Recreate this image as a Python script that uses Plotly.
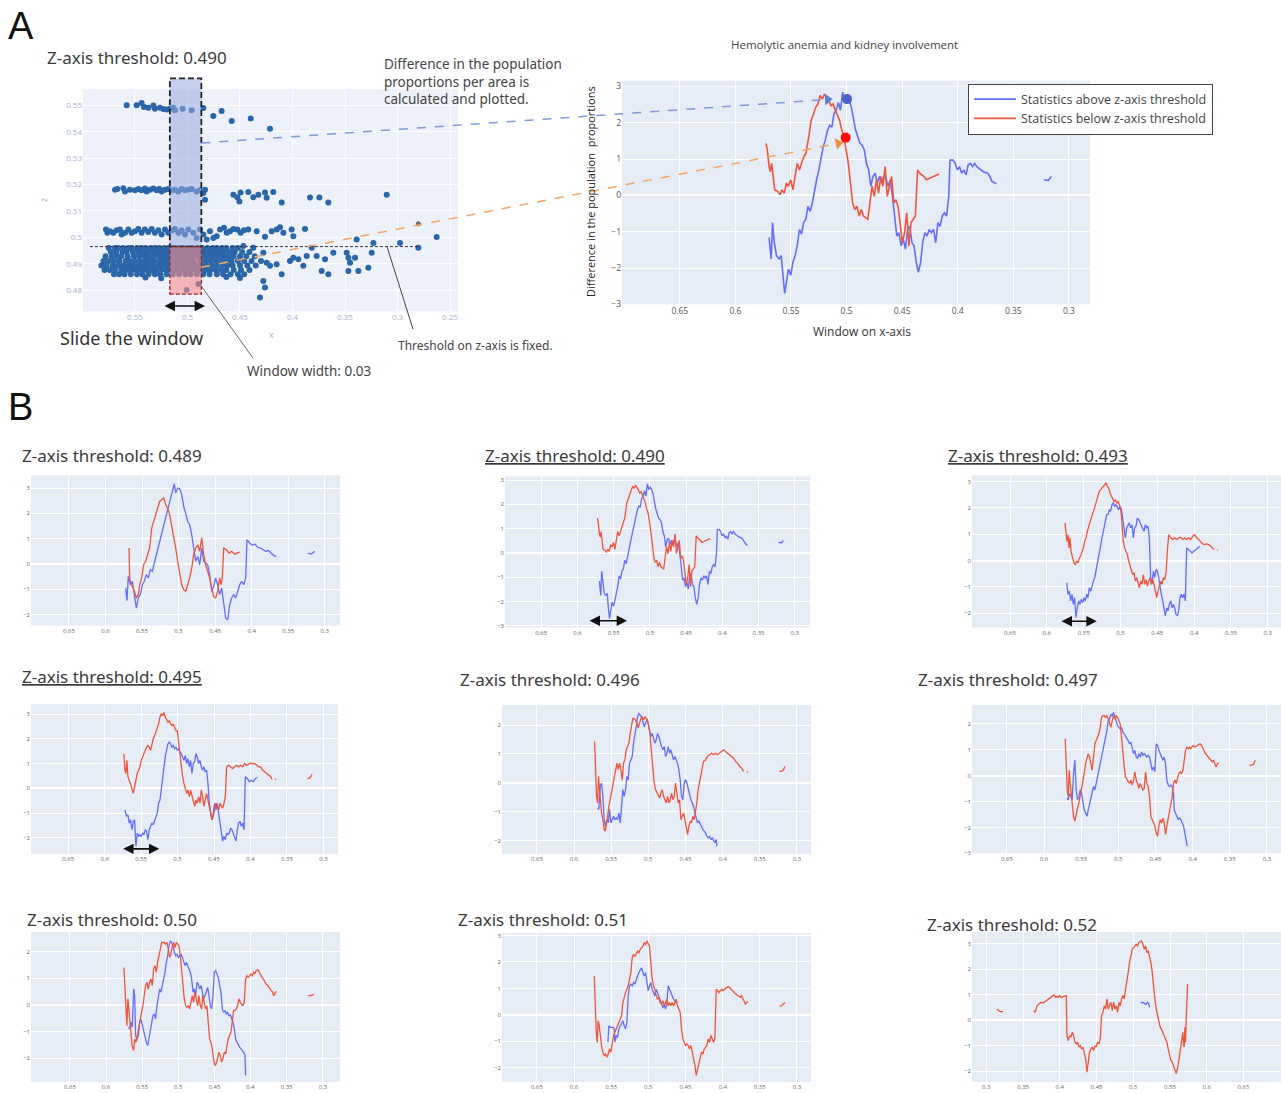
import plotly.graph_objects as go

W, H = 1281, 1093
BLUE = "#636efa"
RED = "#ef553b"
TXT = "Noto Sans"

# ---------------------------------------------------------------- scatter data (x, z)
top_row_x = [0.5579, 0.5484, 0.5437, 0.5414, 0.5373, 0.5325, 0.5310, 0.5262, 0.5230, 0.5198, 0.5167,
             0.5135, 0.5119, 0.5046, 0.4960, 0.4849, 0.4754, 0.4675, 0.4579, 0.4398, 0.4214]
top_row_z = [0.5500, 0.5500, 0.5509, 0.5494, 0.5491, 0.5499, 0.5487, 0.5491, 0.5486, 0.5484, 0.5487,
             0.5491, 0.5481, 0.5487, 0.5481, 0.5490, 0.5460, 0.5479, 0.5441, 0.5450, 0.5411]

mid_row_x = [0.5690, 0.5668, 0.5611, 0.5595, 0.5548, 0.5500, 0.5468, 0.5437, 0.5405, 0.5389, 0.5357,
             0.5325, 0.5294, 0.5268, 0.5246, 0.5214, 0.5183, 0.5151, 0.5119, 0.5087, 0.5056, 0.5024,
             0.4992, 0.4960, 0.4913, 0.4881, 0.4849, 0.4833, 0.4833, 0.4563, 0.4525, 0.4506, 0.4494,
             0.4421, 0.4373, 0.4325, 0.4262, 0.4246, 0.4183, 0.4103, 0.3833, 0.3744, 0.3659, 0.3103]
mid_row_z = [0.5180, 0.5183, 0.5186, 0.5174, 0.5180, 0.5178, 0.5183, 0.5178, 0.5185, 0.5174, 0.5180,
             0.5185, 0.5178, 0.5183, 0.5174, 0.5180, 0.5183, 0.5178, 0.5180, 0.5174, 0.5183, 0.5178,
             0.5180, 0.5183, 0.5174, 0.5178, 0.5168, 0.5180, 0.5142, 0.5161, 0.5152, 0.5136, 0.5170,
             0.5172, 0.5152, 0.5161, 0.5170, 0.5150, 0.5172, 0.5132, 0.5151, 0.5151, 0.5132, 0.5161]

low_row_x = [0.5776, 0.5763, 0.5738, 0.5706, 0.5675, 0.5643, 0.5627, 0.5595, 0.5563, 0.5532, 0.5500,
             0.5468, 0.5437, 0.5405, 0.5373, 0.5341, 0.5310, 0.5278, 0.5246, 0.5214, 0.5183, 0.5151,
             0.5119, 0.5087, 0.5056, 0.5024, 0.4992, 0.4944, 0.4913, 0.4881, 0.4849, 0.4817, 0.4786,
             0.4754, 0.4722, 0.4690, 0.4652, 0.4627, 0.4595, 0.4563, 0.4525, 0.4494, 0.4462, 0.4421,
             0.4341, 0.4262, 0.4198, 0.4151, 0.4119, 0.4087, 0.4008, 0.3992, 0.3881, 0.3389, 0.3230,
             0.2976, 0.2627]
low_row_z = [0.5030, 0.5017, 0.5023, 0.5017, 0.5027, 0.5030, 0.5011, 0.5017, 0.5030, 0.5017, 0.5023,
             0.5032, 0.5017, 0.5030, 0.5020, 0.5032, 0.5017, 0.5027, 0.5011, 0.5030, 0.5017, 0.5026,
             0.5032, 0.5017, 0.5027, 0.5011, 0.5030, 0.5017, 0.4998, 0.5030, 0.5011, 0.4992, 0.5023,
             0.4998, 0.5004, 0.5030, 0.5036, 0.5017, 0.5023, 0.5032, 0.5030, 0.5017, 0.5027, 0.5030,
             0.5023, 0.5002, 0.5023, 0.5030, 0.5038, 0.5017, 0.5030, 0.5004, 0.5032, 0.4992, 0.4979,
             0.4979, 0.5001]

band_levels = [0.4960, 0.4945, 0.4928, 0.4910, 0.4893, 0.4876, 0.4860]
band_rows_x = [
    [0.575, 0.569, 0.566, 0.561, 0.556, 0.553, 0.548, 0.544, 0.540, 0.535, 0.531, 0.527, 0.522, 0.518,
     0.513, 0.509, 0.505, 0.500, 0.496, 0.491, 0.486, 0.481, 0.476, 0.472, 0.467, 0.463, 0.457, 0.452],
    [0.573, 0.568, 0.562, 0.558, 0.552, 0.547, 0.543, 0.538, 0.533, 0.529, 0.524, 0.520, 0.515, 0.511,
     0.507, 0.502, 0.498, 0.493, 0.489, 0.484, 0.479, 0.474, 0.469, 0.465, 0.460, 0.455, 0.448, 0.441],
    [0.578, 0.572, 0.567, 0.563, 0.557, 0.551, 0.546, 0.541, 0.537, 0.532, 0.527, 0.523, 0.518, 0.514,
     0.509, 0.504, 0.500, 0.495, 0.490, 0.486, 0.481, 0.476, 0.471, 0.466, 0.461, 0.456, 0.450, 0.444, 0.436],
    [0.580, 0.575, 0.570, 0.565, 0.559, 0.555, 0.550, 0.545, 0.540, 0.535, 0.531, 0.526, 0.521, 0.517,
     0.512, 0.507, 0.503, 0.498, 0.494, 0.488, 0.483, 0.478, 0.473, 0.468, 0.463, 0.458, 0.452, 0.446,
     0.439, 0.430],
    [0.582, 0.577, 0.571, 0.566, 0.561, 0.556, 0.552, 0.547, 0.542, 0.538, 0.533, 0.528, 0.524, 0.519,
     0.515, 0.510, 0.505, 0.501, 0.496, 0.492, 0.487, 0.482, 0.477, 0.472, 0.467, 0.462, 0.457, 0.450,
     0.443, 0.435],
    [0.579, 0.574, 0.569, 0.563, 0.558, 0.553, 0.549, 0.544, 0.539, 0.534, 0.530, 0.525, 0.520, 0.516,
     0.511, 0.506, 0.502, 0.497, 0.492, 0.488, 0.483, 0.478, 0.473, 0.468, 0.463, 0.456, 0.449, 0.441],
    [0.570, 0.565, 0.560, 0.554, 0.548, 0.543, 0.537, 0.531, 0.526, 0.520, 0.514, 0.508, 0.502, 0.497,
     0.491, 0.485, 0.479, 0.472, 0.466, 0.459, 0.452, 0.446],
]
band_sparse_x = [0.4563, 0.4468, 0.4373, 0.4278, 0.4246, 0.4214, 0.4151, 0.4103, 0.4024, 0.3992, 0.3944,
                 0.3897, 0.3865, 0.3817, 0.3770, 0.3722, 0.3690, 0.3659, 0.3611, 0.3484, 0.3468, 0.3452,
                 0.3468, 0.3373, 0.3405, 0.3278, 0.3246, 0.2802, 0.4897, 0.5008, 0.4278, 0.4262, 0.4310,
                 0.5400, 0.5250, 0.4630, 0.4500]
band_sparse_z = [0.4942, 0.4967, 0.4961, 0.4942, 0.4904, 0.4892, 0.4898, 0.4860, 0.4910, 0.4923, 0.4917,
                 0.4892, 0.4929, 0.4961, 0.4929, 0.4873, 0.4917, 0.4860, 0.4942, 0.4942, 0.4923, 0.4904,
                 0.4873, 0.4873, 0.4923, 0.4885, 0.4942, 0.4961, 0.4823, 0.4801, 0.4835, 0.4810, 0.4772,
                 0.4848, 0.4845, 0.4850, 0.4846]
marked_point = (0.2802, 0.5052)

threshold_z = 0.4965
window_center = 0.5018
window_width = 0.03
window_top_z = 0.5602
window_bottom_z = 0.4785

# tick positions
window_ticks = [0.65, 0.6, 0.55, 0.5, 0.45, 0.4, 0.35, 0.3]
scatter_x_ticks = [0.55, 0.5, 0.45, 0.4, 0.35, 0.3, 0.25]
scatter_z_ticks = [0.48, 0.49, 0.5, 0.51, 0.52, 0.53, 0.54, 0.55]

# ---------------------------------------------------------------- window statistics, threshold 0.490
main_blue = [(0.5697, -1.16), (0.5678, -1.75), (0.5666, -0.75), (0.5650, -1.30), (0.5630, -1.66), (0.5607, -1.75),
             (0.5588, -1.66), (0.5572, -2.30), (0.5557, -2.70), (0.5541, -2.39), (0.5522, -2.03), (0.5502, -2.20),
             (0.5483, -1.85), (0.5463, -1.66), (0.5444, -1.39), (0.5424, -0.94), (0.5405, -1.07), (0.5386, -0.75),
             (0.5366, -0.66), (0.5347, -0.30), (0.5327, -0.44), (0.5308, -0.21), (0.5288, 0.15), (0.5269, 0.43),
             (0.5249, 0.70), (0.5230, 1.06), (0.5210, 1.34), (0.5191, 1.52), (0.5171, 1.79), (0.5152, 1.93),
             (0.5132, 1.88), (0.5113, 2.25), (0.5093, 2.34), (0.5074, 2.56), (0.5055, 2.34), (0.5035, 2.84),
             (0.5016, 2.61), (0.4996, 2.70), (0.4977, 2.61), (0.4957, 2.43), (0.4938, 2.06), (0.4918, 1.79),
             (0.4899, 1.61), (0.4879, 1.43), (0.4860, 1.38), (0.4840, 1.25), (0.4821, 0.88), (0.4801, 0.70),
             (0.4782, 0.25), (0.4762, 0.52), (0.4743, 0.61), (0.4724, 0.34), (0.4704, 0.52), (0.4685, 0.34),
             (0.4665, 0.52), (0.4646, 0.47), (0.4626, 0.25), (0.4607, 0.43), (0.4587, -0.03), (0.4568, -0.57),
             (0.4548, -1.12), (0.4529, -1.03), (0.4509, -1.39), (0.4490, -1.21), (0.4470, -1.48), (0.4451, -0.94),
             (0.4431, -0.85), (0.4412, -1.30), (0.4393, -1.39), (0.4373, -1.85), (0.4354, -2.12), (0.4334, -1.85),
             (0.4315, -1.30), (0.4295, -1.03), (0.4276, -1.12), (0.4256, -0.94), (0.4237, -1.03), (0.4217, -0.94),
             (0.4198, -1.30), (0.4178, -0.75), (0.4159, -0.85), (0.4139, -0.57), (0.4120, -0.48), (0.4100, -0.57),
             (0.4081, -0.03), (0.4069, 0.97), (0.4042, 0.97), (0.4023, 0.88), (0.4003, 0.70), (0.3984, 0.79),
             (0.3964, 0.61), (0.3945, 0.70), (0.3925, 0.56), (0.3906, 0.84), (0.3886, 0.88), (0.3867, 0.79),
             (0.3847, 0.88), (0.3828, 0.79), (0.3808, 0.75), (0.3769, 0.65), (0.3730, 0.61), (0.3711, 0.52),
             (0.3692, 0.38), (0.3672, 0.34), (0.3653, 0.32), (None, None), (0.3224, 0.43), (0.3185, 0.41),
             (0.3158, 0.52)]
main_red = [(0.5724, 1.43), (0.5713, 1.25), (0.5697, 0.79), (0.5685, 0.65), (0.5674, 0.88), (0.5658, 0.43),
            (0.5646, 0.15), (0.5619, 0.11), (0.5600, 0.02), (0.5580, 0.15), (0.5561, 0.06), (0.5541, 0.34),
            (0.5522, 0.25), (0.5502, 0.43), (0.5483, 0.15), (0.5463, 0.52), (0.5444, 0.88), (0.5424, 0.70),
            (0.5405, 0.88), (0.5386, 1.06), (0.5366, 1.15), (0.5347, 1.43), (0.5335, 1.70), (0.5319, 2.06),
            (0.5296, 2.25), (0.5276, 2.43), (0.5257, 2.52), (0.5238, 2.75), (0.5218, 2.65), (0.5199, 2.79),
            (0.5179, 2.70), (0.5160, 2.61), (0.5140, 2.47), (0.5121, 2.52), (0.5101, 2.34), (0.5082, 2.20),
            (0.5062, 2.06), (0.5043, 1.79), (0.5023, 1.61), (0.5004, 1.25), (0.4984, 0.88), (0.4965, 0.34),
            (0.4945, -0.21), (0.4926, -0.39), (0.4907, -0.30), (0.4887, -0.57), (0.4868, -0.39), (0.4848, -0.57),
            (0.4829, -0.62), (0.4809, -0.66), (0.4790, -0.21), (0.4770, 0.25), (0.4751, -0.03), (0.4731, 0.43),
            (0.4712, 0.06), (0.4692, 0.52), (0.4673, 0.25), (0.4653, 0.79), (0.4634, -0.03), (0.4614, 0.25),
            (0.4595, 0.52), (0.4575, -0.21), (0.4556, -0.12), (0.4537, -0.30), (0.4517, -0.75), (0.4498, -1.30),
            (0.4478, -1.03), (0.4459, -0.48), (0.4439, -1.39), (0.4420, -0.75), (0.4400, -0.66), (0.4381, -0.57),
            (0.4361, 0.70), (0.4342, 0.61), (0.4322, 0.56), (0.4303, 0.52), (0.4283, 0.43), (0.4256, 0.47),
            (0.4225, 0.52), (0.4198, 0.56), (0.4167, 0.59)]

# points highlighted in the main window plot
above_point = (0.4996, 2.65)
above_arrow = (0.5171, 2.64)
below_point = (0.5008, 1.59)
below_arrow = (0.5074, 1.43)
above_source_z = 0.5357
below_source_z = 0.4887

# ---------------------------------------------------------------- threshold 0.489
t489_blue = [(0.5724, -0.95), (0.5706, -1.45), (0.5688, -0.49), (0.5660, -0.82), (0.5633, -0.68), (0.5605, -1.21),
             (0.5578, -1.74), (0.5551, -1.34), (0.5523, -1.21), (0.5496, -0.82), (0.5469, -0.68), (0.5441, -0.42),
             (0.5414, -0.55), (0.5386, -0.22), (0.5359, -0.29), (0.5332, 0.04), (0.5304, 0.37), (0.5277, 0.63),
             (0.5249, 1.03), (0.5222, 1.36), (0.5195, 1.68), (0.5167, 1.95), (0.5140, 2.21), (0.5112, 2.54),
             (0.5085, 2.87), (0.5058, 3.17), (0.5039, 2.80), (0.5012, 3.00), (0.4985, 2.97), (0.4957, 2.74),
             (0.4930, 2.28), (0.4903, 2.01), (0.4875, 1.68), (0.4848, 1.55), (0.4820, 1.16), (0.4793, 0.63),
             (0.4766, 0.11), (0.4738, 0.30), (0.4711, -0.03), (0.4683, 0.63), (0.4656, 0.11), (0.4629, 0.04),
             (0.4601, -0.03), (0.4574, -0.42), (0.4547, -1.08), (0.4519, -0.88), (0.4492, -0.55), (0.4464, -0.82),
             (0.4437, -1.21), (0.4410, -0.95), (0.4382, -1.61), (0.4355, -2.13), (0.4327, -2.20), (0.4300, -1.61),
             (0.4273, -1.34), (0.4245, -1.21), (0.4218, -1.34), (0.4191, -1.08), (0.4163, -0.82), (0.4136, -0.68),
             (0.4108, -0.82), (0.4081, -0.55), (0.4063, 0.96), (0.4026, 0.83), (0.3990, 0.74), (0.3953, 0.79),
             (0.3917, 0.66), (0.3880, 0.63), (0.3844, 0.57), (0.3807, 0.50), (0.3771, 0.53), (0.3734, 0.43),
             (0.3698, 0.34), (0.3661, 0.29), (None, None), (0.3228, 0.43), (0.3182, 0.39), (0.3136, 0.50)]
t489_red = [(0.5678, 0.63), (0.5669, -0.55), (0.5651, -0.82), (0.5633, -0.88), (0.5605, -1.08), (0.5578, -1.34),
            (0.5551, -1.21), (0.5532, -0.82), (0.5505, -0.55), (0.5478, -0.03), (0.5451, 0.11), (0.5423, 0.43),
            (0.5396, 0.63), (0.5368, 1.42), (0.5341, 1.68), (0.5313, 2.01), (0.5286, 2.28), (0.5259, 2.47),
            (0.5231, 2.54), (0.5204, 2.61), (0.5176, 2.34), (0.5149, 2.21), (0.5122, 1.95), (0.5094, 1.55),
            (0.5067, 1.03), (0.5039, 0.63), (0.5012, 0.11), (0.4985, -0.42), (0.4957, -0.82), (0.4930, -1.01),
            (0.4903, -1.08), (0.4875, -0.82), (0.4848, -0.55), (0.4820, -0.16), (0.4793, 0.37), (0.4766, 0.63),
            (0.4738, 0.76), (0.4711, 0.50), (0.4683, 1.03), (0.4656, 0.37), (0.4629, -0.03), (0.4601, -0.29),
            (0.4574, -0.55), (0.4547, -0.95), (0.4519, -1.28), (0.4492, -1.34), (0.4464, -1.08), (0.4437, -0.55),
            (0.4419, -0.82), (0.4401, -0.55), (0.4382, 0.63), (0.4346, 0.57), (0.4309, 0.43), (0.4273, 0.50),
            (0.4236, 0.39), (0.4200, 0.43), (0.4163, 0.47)]

# ---------------------------------------------------------------- threshold 0.493
t493_blue = [(0.5730, -0.84), (0.5712, -1.28), (0.5694, -1.16), (0.5676, -1.53), (0.5658, -1.28), (0.5640, -1.66),
             (0.5622, -1.41), (0.5604, -2.16), (0.5586, -1.79), (0.5567, -1.53), (0.5549, -1.66), (0.5531, -1.47),
             (0.5513, -1.60), (0.5495, -1.41), (0.5477, -1.53), (0.5459, -1.28), (0.5441, -1.41), (0.5423, -1.03),
             (0.5404, -1.16), (0.5386, -0.90), (0.5368, -0.78), (0.5350, -0.65), (0.5332, -0.40), (0.5314, -0.21),
             (0.5296, 0.10), (0.5278, 0.42), (0.5260, 0.73), (0.5242, 0.98), (0.5223, 1.11), (0.5205, 1.36),
             (0.5187, 1.74), (0.5169, 1.74), (0.5151, 1.93), (0.5133, 1.87), (0.5115, 2.12), (0.5097, 2.18),
             (0.5079, 2.06), (0.5060, 2.12), (0.5042, 1.99), (0.5024, 1.93), (0.5006, 2.06), (0.4988, 1.93),
             (0.4970, 1.61), (0.4952, 1.11), (0.4934, 0.86), (0.4916, 1.24), (0.4897, 1.36), (0.4879, 1.43),
             (0.4861, 1.24), (0.4843, 1.36), (0.4825, 0.86), (0.4807, 1.24), (0.4789, 1.30), (0.4771, 1.61),
             (0.4753, 1.55), (0.4734, 1.43), (0.4716, 1.36), (0.4698, 1.24), (0.4680, 1.11), (0.4662, 1.36),
             (0.4644, 1.24), (0.4626, 1.30), (0.4608, 0.86), (0.4590, -0.65), (0.4572, -0.90), (0.4553, -0.40),
             (0.4535, -0.65), (0.4517, -0.34), (0.4499, -0.40), (0.4481, -0.65), (0.4463, -1.03), (0.4445, -1.28),
             (0.4427, -1.53), (0.4409, -1.91), (0.4391, -2.10), (0.4372, -1.79), (0.4354, -1.91), (0.4336, -1.66),
             (0.4318, -1.53), (0.4300, -1.79), (0.4282, -1.66), (0.4264, -1.79), (0.4246, -2.04), (0.4227, -2.10),
             (0.4209, -1.91), (0.4191, -1.41), (0.4173, -1.28), (0.4155, -1.41), (0.4137, -1.28), (0.4119, -1.53),
             (0.4101, 0.48), (0.4078, 0.42), (0.4056, 0.36), (0.4028, 0.29), (0.4001, 0.36), (0.3974, 0.42),
             (0.3947, 0.48), (0.3920, 0.54)]
t493_red = [(0.5753, 1.43), (0.5740, 1.11), (0.5726, 0.73), (0.5712, 0.98), (0.5699, 0.48), (0.5685, 0.86),
            (0.5672, 0.36), (0.5649, 0.10), (0.5631, -0.09), (0.5613, -0.15), (0.5595, -0.02), (0.5577, -0.09),
            (0.5558, 0.10), (0.5540, 0.17), (0.5522, 0.29), (0.5504, 0.48), (0.5486, 0.73), (0.5468, 0.86),
            (0.5450, 1.11), (0.5432, 1.30), (0.5414, 1.49), (0.5395, 1.61), (0.5377, 1.80), (0.5359, 1.93),
            (0.5341, 2.12), (0.5323, 2.24), (0.5305, 2.43), (0.5287, 2.62), (0.5269, 2.69), (0.5251, 2.75),
            (0.5233, 2.81), (0.5214, 2.87), (0.5196, 2.94), (0.5178, 2.81), (0.5160, 2.75), (0.5142, 2.56),
            (0.5124, 2.43), (0.5106, 2.31), (0.5088, 2.24), (0.5070, 2.31), (0.5051, 2.18), (0.5033, 2.24),
            (0.5015, 2.12), (0.4997, 1.99), (0.4979, 1.36), (0.4961, 0.73), (0.4943, 0.48), (0.4925, 0.36),
            (0.4907, 0.23), (0.4888, -0.02), (0.4870, -0.21), (0.4852, -0.40), (0.4834, -0.53), (0.4816, -0.46),
            (0.4798, -0.78), (0.4780, -0.65), (0.4762, -0.90), (0.4744, -1.03), (0.4725, -0.78), (0.4707, -0.90),
            (0.4689, -0.53), (0.4671, -0.90), (0.4653, -0.72), (0.4635, -0.97), (0.4617, -0.78), (0.4599, -0.65),
            (0.4581, -0.90), (0.4562, -0.72), (0.4544, -0.90), (0.4526, -1.22), (0.4508, -1.41), (0.4490, -1.16),
            (0.4472, -0.90), (0.4454, -0.78), (0.4436, -0.90), (0.4418, -0.65), (0.4400, -0.72), (0.4381, -0.46),
            (0.4363, 0.36), (0.4345, 0.98), (0.4318, 0.86), (0.4291, 0.80), (0.4264, 0.86), (0.4236, 0.80),
            (0.4209, 0.86), (0.4182, 0.88), (0.4155, 0.80), (0.4128, 0.86), (0.4101, 0.80), (0.4074, 0.86),
            (0.4046, 0.80), (0.4019, 0.92), (0.3992, 0.98), (0.3965, 0.86), (0.3938, 0.80), (0.3910, 0.73),
            (0.3883, 0.63), (0.3856, 0.61), (0.3829, 0.63), (0.3802, 0.61), (0.3775, 0.54), (0.3748, 0.48),
            (0.3730, 0.42), (None, None), (0.3689, 0.42), (0.3675, 0.40)]

# ---------------------------------------------------------------- threshold 0.495
t495_blue = [(0.5722, -0.87), (0.5700, -1.13), (0.5681, -1.07), (0.5663, -1.40), (0.5645, -1.27), (0.5626, -1.67),
             (0.5608, -1.33), (0.5590, -1.27), (0.5571, -2.33), (0.5553, -1.80), (0.5535, -1.93), (0.5516, -1.87),
             (0.5498, -1.93), (0.5480, -1.80), (0.5462, -1.87), (0.5443, -1.67), (0.5425, -1.73), (0.5407, -2.07),
             (0.5388, -1.67), (0.5370, -1.53), (0.5352, -1.40), (0.5334, -1.47), (0.5315, -1.27), (0.5297, -1.13),
             (0.5279, -1.00), (0.5260, -0.60), (0.5242, -0.47), (0.5224, -0.07), (0.5205, 0.47), (0.5187, 0.87),
             (0.5169, 1.27), (0.5151, 1.53), (0.5132, 1.80), (0.5114, 1.87), (0.5096, 1.80), (0.5077, 1.67),
             (0.5059, 1.73), (0.5041, 1.60), (0.5022, 1.67), (0.5004, 1.53), (0.4986, 1.60), (0.4968, 1.47),
             (0.4949, 1.40), (0.4931, 1.27), (0.4913, 1.13), (0.4894, 1.33), (0.4876, 1.00), (0.4858, 1.20),
             (0.4839, 0.87), (0.4821, 1.13), (0.4803, 0.60), (0.4785, 1.00), (0.4766, 1.07), (0.4748, 1.40),
             (0.4730, 1.27), (0.4711, 1.00), (0.4693, 1.13), (0.4675, 0.87), (0.4656, 0.73), (0.4638, 0.87),
             (0.4620, 0.67), (0.4602, 0.73), (0.4583, 0.20), (0.4565, -0.60), (0.4547, -0.87), (0.4528, -1.27),
             (0.4510, -1.00), (0.4492, -0.60), (0.4473, -0.87), (0.4455, -0.60), (0.4437, -1.00), (0.4419, -1.40),
             (0.4400, -1.80), (0.4382, -2.13), (0.4364, -1.93), (0.4345, -2.07), (0.4327, -1.80), (0.4309, -1.87),
             (0.4290, -1.80), (0.4272, -1.60), (0.4254, -1.67), (0.4236, -1.80), (0.4217, -2.00), (0.4199, -2.13),
             (0.4181, -1.67), (0.4162, -1.40), (0.4144, -1.33), (0.4126, -1.53), (0.4107, -1.40), (0.4089, -1.67),
             (0.4071, 0.47), (0.4043, 0.40), (0.4016, 0.27), (0.3989, 0.33), (0.3961, 0.27), (0.3934, 0.40),
             (0.3906, 0.44)]
t495_red = [(0.5736, 1.40), (0.5722, 0.73), (0.5709, 0.60), (0.5695, 1.13), (0.5681, 0.47), (0.5663, 0.33),
            (0.5645, 0.20), (0.5626, 0.00), (0.5608, -0.20), (0.5590, 0.07), (0.5571, 0.33), (0.5553, 0.60),
            (0.5535, 0.73), (0.5516, 0.87), (0.5498, 1.13), (0.5480, 1.27), (0.5462, 1.40), (0.5443, 1.53),
            (0.5425, 1.67), (0.5407, 1.73), (0.5388, 1.67), (0.5370, 1.53), (0.5352, 1.80), (0.5334, 2.00),
            (0.5315, 2.13), (0.5297, 2.27), (0.5279, 2.40), (0.5260, 2.60), (0.5242, 2.87), (0.5224, 3.00),
            (0.5205, 2.93), (0.5187, 3.07), (0.5169, 2.87), (0.5151, 2.80), (0.5132, 2.67), (0.5114, 2.73),
            (0.5096, 2.60), (0.5077, 2.53), (0.5059, 2.60), (0.5041, 2.47), (0.5022, 2.33), (0.5004, 2.33),
            (0.4986, 1.80), (0.4968, 1.27), (0.4949, 0.73), (0.4931, 0.47), (0.4913, 0.20), (0.4894, 0.00),
            (0.4876, -0.20), (0.4858, -0.07), (0.4839, -0.33), (0.4821, -0.07), (0.4803, -0.33), (0.4785, -0.60),
            (0.4766, -0.73), (0.4748, -0.47), (0.4730, -0.60), (0.4711, -0.33), (0.4693, -0.60), (0.4675, -0.07),
            (0.4656, -0.33), (0.4638, -0.73), (0.4620, -0.47), (0.4602, -0.20), (0.4583, -0.47), (0.4565, -0.73),
            (0.4547, -1.00), (0.4528, -1.27), (0.4510, -1.13), (0.4492, -0.87), (0.4473, -0.60), (0.4455, -0.73),
            (0.4437, -0.87), (0.4419, -0.60), (0.4400, -0.73), (0.4382, -0.80), (0.4364, -0.60), (0.4345, -0.33),
            (0.4327, 0.87), (0.4300, 0.93), (0.4272, 0.87), (0.4245, 0.80), (0.4217, 0.87), (0.4190, 0.93),
            (0.4162, 0.87), (0.4135, 0.93), (0.4107, 0.87), (0.4080, 1.00), (0.4053, 0.93), (0.4025, 1.00),
            (0.3998, 1.03), (0.3970, 1.00), (0.3943, 1.00), (0.3915, 0.93), (0.3888, 0.87), (0.3861, 0.87),
            (0.3833, 0.73), (0.3806, 0.67), (0.3778, 0.60), (0.3751, 0.53), (0.3723, 0.47), (0.3705, 0.36),
            (None, None), (0.3664, 0.38), (0.3650, 0.35), (None, None), (0.3220, 0.40), (0.3193, 0.40),
            (0.3174, 0.47), (0.3156, 0.57)]

# ---------------------------------------------------------------- threshold 0.496
t496_blue = [(0.5683, -0.87), (0.5666, -0.93), (0.5648, -0.13), (0.5630, -0.01), (0.5612, -0.47), (0.5594, -1.28),
             (0.5576, -1.51), (0.5558, -1.28), (0.5540, -1.39), (0.5522, -0.93), (0.5504, -1.39), (0.5486, -1.28),
             (0.5468, -1.16), (0.5450, -1.28), (0.5432, -1.22), (0.5414, -1.28), (0.5396, -1.05), (0.5378, -1.39),
             (0.5360, -0.93), (0.5343, -0.24), (0.5325, -0.47), (0.5307, -0.24), (0.5289, 0.22), (0.5271, 0.10),
             (0.5253, 0.68), (0.5235, 0.79), (0.5217, 0.91), (0.5199, 1.37), (0.5181, 1.60), (0.5163, 1.94),
             (0.5145, 2.29), (0.5127, 2.40), (0.5109, 2.34), (0.5091, 2.29), (0.5073, 2.11), (0.5055, 1.94),
             (0.5037, 2.06), (0.5019, 2.17), (0.5002, 2.06), (0.4984, 1.83), (0.4966, 1.60), (0.4948, 1.71),
             (0.4930, 1.54), (0.4912, 1.37), (0.4894, 1.48), (0.4876, 1.71), (0.4858, 1.60), (0.4840, 1.37),
             (0.4822, 1.25), (0.4804, 1.14), (0.4786, 1.25), (0.4768, 0.91), (0.4750, 1.02), (0.4732, 1.25),
             (0.4714, 1.02), (0.4697, 1.14), (0.4679, 0.91), (0.4661, 0.79), (0.4643, 0.91), (0.4625, 0.79),
             (0.4607, 0.68), (0.4589, 0.45), (0.4571, 0.10), (0.4553, -0.47), (0.4535, -0.59), (0.4517, -0.01),
             (0.4499, 0.10), (0.4481, -0.01), (0.4463, -0.24), (0.4445, -0.47), (0.4427, -0.59), (0.4409, -0.70),
             (0.4391, -0.82), (0.4373, -1.05), (0.4356, -1.28), (0.4338, -1.39), (0.4320, -1.33), (0.4302, -1.45),
             (0.4284, -1.51), (0.4266, -1.62), (0.4248, -1.68), (0.4230, -1.74), (0.4212, -1.85), (0.4194, -1.91),
             (0.4176, -1.85), (0.4158, -1.97), (0.4140, -1.91), (0.4122, -2.02), (0.4104, -2.08), (0.4086, -1.97),
             (0.4077, -2.20)]
t496_red = [(0.5724, 1.43), (0.5710, 0.22), (0.5697, -0.47), (0.5683, -0.70), (0.5670, 0.22), (0.5657, -0.24),
            (0.5643, -0.70), (0.5630, -1.05), (0.5612, -1.28), (0.5594, -1.62), (0.5580, -1.68), (0.5567, -1.39),
            (0.5549, -1.16), (0.5531, -0.82), (0.5513, -0.59), (0.5495, -0.24), (0.5477, -0.01), (0.5459, 0.22),
            (0.5441, 0.45), (0.5423, 0.68), (0.5405, 0.45), (0.5387, 0.68), (0.5369, 0.45), (0.5351, 0.10),
            (0.5334, 0.68), (0.5316, 0.79), (0.5298, 1.14), (0.5280, 1.25), (0.5262, 1.37), (0.5244, 1.71),
            (0.5226, 2.06), (0.5208, 2.23), (0.5190, 2.23), (0.5172, 2.17), (0.5154, 2.06), (0.5136, 1.89),
            (0.5118, 2.06), (0.5100, 2.23), (0.5082, 2.29), (0.5064, 2.17), (0.5046, 2.29), (0.5028, 2.23),
            (0.5011, 2.17), (0.4993, 1.94), (0.4975, 1.60), (0.4957, 1.02), (0.4939, 0.45), (0.4921, -0.01),
            (0.4903, -0.24), (0.4885, -0.36), (0.4867, -0.47), (0.4849, -0.53), (0.4831, -0.36), (0.4813, -0.24),
            (0.4795, -0.47), (0.4777, -0.59), (0.4759, -0.70), (0.4741, -0.47), (0.4723, -0.70), (0.4705, -0.59),
            (0.4687, -0.36), (0.4670, -0.59), (0.4652, -0.47), (0.4634, -0.01), (0.4616, -0.47), (0.4598, -0.70),
            (0.4580, -0.59), (0.4562, -1.28), (0.4544, -1.16), (0.4526, -1.05), (0.4508, -1.28), (0.4490, -1.62),
            (0.4472, -1.79), (0.4454, -1.51), (0.4436, -1.33), (0.4418, -1.39), (0.4400, -1.16), (0.4382, -1.28),
            (0.4365, -1.05), (0.4347, -0.70), (0.4329, -0.24), (0.4311, -0.01), (0.4293, 0.22), (0.4275, 0.45),
            (0.4257, 0.74), (0.4230, 0.79), (0.4203, 0.91), (0.4176, 0.97), (0.4149, 1.02), (0.4122, 0.97),
            (0.4095, 1.02), (0.4068, 0.97), (0.4042, 1.02), (0.4015, 1.08), (0.3988, 1.14), (0.3961, 1.08),
            (0.3934, 1.02), (0.3907, 0.97), (0.3880, 0.91), (0.3853, 0.85), (0.3826, 0.74), (0.3799, 0.68),
            (0.3772, 0.56), (0.3745, 0.51), (0.3718, 0.39), (None, None), (0.3674, 0.39), (0.3660, 0.36),
            (None, None), (0.3234, 0.39), (0.3207, 0.39), (0.3180, 0.45), (0.3162, 0.56)]

# ---------------------------------------------------------------- threshold 0.497
t497_blue = [(0.5693, -0.87), (0.5675, -0.93), (0.5657, -0.68), (0.5639, -0.81), (0.5621, -0.93), (0.5603, 0.09),
             (0.5585, 0.60), (0.5567, -0.55), (0.5549, -0.93), (0.5531, -0.81), (0.5513, -0.55), (0.5495, -0.68),
             (0.5477, -1.06), (0.5459, -1.32), (0.5441, -1.44), (0.5423, -1.57), (0.5405, -1.32), (0.5387, -1.06),
             (0.5369, -0.81), (0.5352, -0.55), (0.5334, -0.42), (0.5316, -0.55), (0.5298, -0.30), (0.5280, -0.17),
             (0.5262, 0.21), (0.5244, 0.47), (0.5226, 0.72), (0.5208, 0.98), (0.5190, 1.23), (0.5172, 1.49),
             (0.5154, 1.74), (0.5136, 2.13), (0.5118, 2.19), (0.5100, 2.38), (0.5082, 2.32), (0.5064, 2.45),
             (0.5046, 2.26), (0.5028, 2.06), (0.5011, 1.94), (0.4993, 1.87), (0.4975, 1.81), (0.4957, 1.87),
             (0.4939, 1.68), (0.4921, 1.62), (0.4903, 1.49), (0.4885, 1.43), (0.4867, 1.36), (0.4849, 1.23),
             (0.4831, 1.30), (0.4813, 1.11), (0.4795, 0.85), (0.4777, 0.98), (0.4759, 0.72), (0.4741, 0.66),
             (0.4723, 0.85), (0.4705, 0.72), (0.4687, 0.92), (0.4670, 0.79), (0.4652, 0.85), (0.4634, 0.79),
             (0.4616, 0.72), (0.4598, 0.79), (0.4580, 0.72), (0.4562, 0.47), (0.4544, 0.21), (0.4526, 0.34),
             (0.4508, 0.15), (0.4490, 1.23), (0.4472, 1.17), (0.4454, 0.98), (0.4436, 0.85), (0.4418, 0.72),
             (0.4400, 0.60), (0.4382, 0.72), (0.4365, 0.47), (0.4347, -0.17), (0.4329, -0.36), (0.4311, -0.42),
             (0.4293, -0.36), (0.4275, -0.42), (0.4257, -0.68), (0.4248, -1.32), (0.4230, -1.44), (0.4212, -1.57),
             (0.4194, -1.70), (0.4176, -1.63), (0.4158, -1.70), (0.4140, -1.83), (0.4122, -1.95), (0.4104, -2.21),
             (0.4086, -2.46), (0.4073, -2.72)]
t497_red = [(0.5715, 1.43), (0.5701, 0.34), (0.5688, -0.55), (0.5675, -0.81), (0.5661, 0.21), (0.5648, -0.30),
            (0.5634, -0.81), (0.5621, -1.06), (0.5603, -1.57), (0.5585, -1.76), (0.5567, -1.44), (0.5549, -1.25),
            (0.5531, -1.06), (0.5513, -0.81), (0.5495, -0.55), (0.5477, -0.30), (0.5459, 0.09), (0.5441, 0.47),
            (0.5423, 0.72), (0.5405, 0.85), (0.5387, 0.72), (0.5369, 0.47), (0.5352, 0.21), (0.5334, 0.72),
            (0.5316, 1.23), (0.5298, 1.36), (0.5280, 1.49), (0.5262, 1.62), (0.5244, 1.87), (0.5226, 2.26),
            (0.5208, 2.32), (0.5190, 2.32), (0.5172, 2.26), (0.5154, 2.32), (0.5136, 2.19), (0.5118, 2.00),
            (0.5100, 1.87), (0.5082, 2.13), (0.5064, 2.32), (0.5046, 2.19), (0.5028, 2.32), (0.5011, 2.26),
            (0.4993, 2.13), (0.4975, 2.00), (0.4957, 1.49), (0.4939, 0.85), (0.4921, 0.34), (0.4903, -0.04),
            (0.4885, -0.17), (0.4867, -0.23), (0.4849, -0.30), (0.4831, -0.17), (0.4813, -0.36), (0.4795, -0.17),
            (0.4777, 0.15), (0.4759, -0.17), (0.4741, -0.30), (0.4723, -0.49), (0.4705, -0.30), (0.4687, -0.42),
            (0.4670, -0.55), (0.4652, -0.49), (0.4634, 0.15), (0.4616, -0.30), (0.4598, -0.42), (0.4580, -0.81),
            (0.4562, -1.57), (0.4544, -1.70), (0.4526, -1.83), (0.4508, -1.95), (0.4490, -2.21), (0.4472, -2.34),
            (0.4454, -1.95), (0.4436, -1.70), (0.4418, -1.83), (0.4400, -1.64), (0.4382, -1.83), (0.4365, -2.27),
            (0.4347, -1.95), (0.4329, -1.70), (0.4311, -1.44), (0.4293, -1.06), (0.4275, -0.81), (0.4257, -0.30),
            (0.4239, -0.17), (0.4221, -0.30), (0.4203, -0.04), (0.4185, 0.09), (0.4167, 0.15), (0.4149, 0.09),
            (0.4131, 0.21), (0.4113, 0.72), (0.4095, 0.98), (0.4077, 1.11), (0.4059, 1.04), (0.4041, 1.11),
            (0.4024, 1.04), (0.4006, 1.13), (0.3988, 1.17), (0.3970, 1.11), (0.3952, 1.13), (0.3934, 1.17),
            (0.3916, 1.21), (0.3898, 1.23), (0.3880, 1.17), (0.3862, 1.04), (0.3844, 0.98), (0.3826, 0.85),
            (0.3808, 0.79), (0.3790, 0.72), (0.3772, 0.66), (0.3754, 0.60), (0.3736, 0.53), (0.3719, 0.60),
            (0.3701, 0.47), (0.3683, 0.34), (0.3665, 0.47), (0.3647, 0.49), (None, None), (0.3234, 0.41),
            (0.3203, 0.41), (0.3180, 0.44), (0.3158, 0.60)]

# ---------------------------------------------------------------- threshold 0.50
t500_blue = [(0.5692, -0.90), (0.5674, -0.84), (0.5655, -0.65), (0.5637, -0.84), (0.5618, 0.60), (0.5604, 0.35),
             (0.5591, -1.15), (0.5572, -1.28), (0.5554, -1.15), (0.5535, -0.65), (0.5517, -0.53), (0.5498, -0.78),
             (0.5480, -0.90), (0.5461, -1.15), (0.5443, -1.40), (0.5424, -1.53), (0.5406, -1.28), (0.5387, -1.03),
             (0.5369, -0.65), (0.5350, -0.40), (0.5332, -0.34), (0.5314, -0.53), (0.5295, -0.03), (0.5277, 0.35),
             (0.5258, 0.60), (0.5240, 0.48), (0.5221, 0.73), (0.5203, 0.98), (0.5184, 1.23), (0.5166, 1.60),
             (0.5147, 1.85), (0.5129, 2.23), (0.5110, 2.41), (0.5092, 2.35), (0.5073, 2.23), (0.5055, 1.98),
             (0.5036, 1.85), (0.5018, 1.91), (0.4999, 1.79), (0.4981, 1.85), (0.4963, 1.91), (0.4944, 1.79),
             (0.4926, 1.60), (0.4907, 1.48), (0.4889, 1.60), (0.4870, 1.48), (0.4852, 1.35), (0.4833, 1.23),
             (0.4815, 0.98), (0.4796, 0.48), (0.4778, 0.60), (0.4759, 0.35), (0.4741, 0.85), (0.4723, 0.79),
             (0.4704, 0.60), (0.4686, 0.73), (0.4667, 0.48), (0.4649, 0.23), (0.4630, 0.35), (0.4612, 0.48),
             (0.4593, 0.66), (0.4575, 0.35), (0.4556, -0.03), (0.4538, -0.15), (0.4519, 0.35), (0.4501, 1.23),
             (0.4482, 1.29), (0.4464, 1.16), (0.4446, 1.04), (0.4427, 0.73), (0.4409, 0.48), (0.4390, -0.15),
             (0.4372, -0.28), (0.4353, -0.21), (0.4335, -0.34), (0.4316, -0.28), (0.4298, -0.40), (0.4279, -0.38),
             (0.4261, -0.53), (0.4242, -0.65), (0.4224, -0.90), (0.4205, -1.28), (0.4187, -1.40), (0.4169, -1.53),
             (0.4150, -1.59), (0.4132, -1.65), (0.4113, -1.71), (0.4095, -1.78), (0.4076, -1.90), (0.4067, -2.65)]
t500_red = [(0.5753, 1.41), (0.5739, 0.60), (0.5725, -0.40), (0.5712, -0.78), (0.5698, 0.23), (0.5684, -0.15),
            (0.5671, -0.78), (0.5657, -1.15), (0.5639, -1.53), (0.5620, -1.71), (0.5601, -1.28), (0.5583, -1.40),
            (0.5564, -1.15), (0.5546, -0.90), (0.5527, -0.65), (0.5508, -0.28), (0.5490, -0.03), (0.5471, 0.35),
            (0.5453, 0.73), (0.5434, 0.85), (0.5416, 0.60), (0.5397, 0.85), (0.5379, 0.98), (0.5360, 0.73),
            (0.5342, 1.35), (0.5323, 1.48), (0.5305, 1.23), (0.5286, 1.60), (0.5268, 1.85), (0.5249, 2.10),
            (0.5230, 2.35), (0.5212, 2.35), (0.5193, 2.35), (0.5175, 2.29), (0.5157, 2.35), (0.5138, 2.10),
            (0.5120, 1.79), (0.5101, 1.91), (0.5083, 2.23), (0.5064, 2.35), (0.5046, 2.16), (0.5027, 2.35),
            (0.5009, 2.29), (0.4991, 2.23), (0.4972, 1.85), (0.4954, 1.23), (0.4935, 0.60), (0.4917, 0.23),
            (0.4898, -0.03), (0.4880, -0.09), (0.4862, -0.03), (0.4843, -0.15), (0.4825, 0.10), (0.4806, 0.35),
            (0.4788, 0.10), (0.4769, 0.48), (0.4751, 0.23), (0.4732, -0.03), (0.4714, 0.35), (0.4695, -0.03),
            (0.4677, -0.15), (0.4659, 0.35), (0.4640, 0.10), (0.4622, -0.15), (0.4603, -0.03), (0.4585, -0.78),
            (0.4566, -1.28), (0.4548, -1.40), (0.4529, -1.65), (0.4511, -2.03), (0.4492, -2.28), (0.4474, -2.21),
            (0.4455, -2.03), (0.4437, -1.78), (0.4418, -1.90), (0.4400, -2.15), (0.4382, -2.03), (0.4363, -1.78),
            (0.4345, -1.84), (0.4326, -1.53), (0.4308, -1.28), (0.4289, -1.15), (0.4271, -1.03), (0.4253, -0.65),
            (0.4234, -0.21), (0.4216, -0.21), (0.4197, -0.15), (0.4179, -0.03), (0.4160, 0.23), (0.4142, 0.10),
            (0.4123, 0.04), (0.4105, -0.03), (0.4086, 0.10), (0.4068, 0.98), (0.4049, 1.10), (0.4031, 1.04),
            (0.4012, 1.10), (0.3994, 1.16), (0.3975, 1.10), (0.3957, 1.23), (0.3938, 1.20), (0.3920, 1.29),
            (0.3896, 1.33), (0.3878, 1.23), (0.3859, 1.10), (0.3841, 1.04), (0.3822, 0.98), (0.3804, 0.85),
            (0.3785, 0.79), (0.3767, 0.75), (0.3748, 0.66), (0.3730, 0.60), (0.3711, 0.54), (0.3693, 0.48),
            (0.3675, 0.35), (0.3656, 0.48), (0.3638, 0.50), (None, None), (0.3199, 0.35), (0.3167, 0.35),
            (0.3139, 0.38), (0.3121, 0.41)]

# ---------------------------------------------------------------- threshold 0.51
t510_blue = [(0.5544, -1.03), (0.5531, -0.41), (0.5513, -0.47), (0.5495, -0.47), (0.5477, -0.47), (0.5459, -0.53),
             (0.5450, -1.03), (0.5432, -0.78), (0.5414, -0.85), (0.5396, -0.53), (0.5378, -0.41), (0.5360, -0.28),
             (0.5343, -0.22), (0.5325, -0.41), (0.5307, -0.53), (0.5289, -0.28), (0.5271, 0.72), (0.5253, 1.10),
             (0.5235, 1.16), (0.5217, 1.10), (0.5199, 1.22), (0.5181, 1.16), (0.5163, 1.28), (0.5145, 1.47),
             (0.5127, 1.60), (0.5109, 1.72), (0.5091, 1.78), (0.5073, 1.60), (0.5055, 1.47), (0.5037, 1.60),
             (0.5019, 1.22), (0.5002, 0.91), (0.4984, 1.10), (0.4966, 1.22), (0.4948, 0.97), (0.4930, 0.84),
             (0.4912, 0.72), (0.4894, 0.97), (0.4876, 0.84), (0.4858, 0.72), (0.4840, 0.59), (0.4822, 0.47),
             (0.4804, 0.28), (0.4786, 0.34), (0.4768, 0.22), (0.4750, 0.47), (0.4732, 1.10), (0.4714, 0.97),
             (0.4697, 0.84), (0.4679, 0.72), (0.4661, 0.59), (0.4643, 0.53), (0.4625, 0.47), (0.4607, 0.50)]
t510_red = [(0.5728, 1.47), (0.5715, 0.34), (0.5701, -0.66), (0.5688, -1.04), (0.5675, -0.22), (0.5661, -0.41),
            (0.5648, -0.78), (0.5630, -1.16), (0.5612, -1.41), (0.5594, -1.54), (0.5576, -1.48), (0.5558, -1.60),
            (0.5540, -1.48), (0.5522, -1.29), (0.5504, -1.41), (0.5486, -1.04), (0.5468, -0.78), (0.5450, -0.66),
            (0.5432, -0.53), (0.5414, -0.47), (0.5396, -0.28), (0.5378, -0.16), (0.5360, -0.03), (0.5343, 0.47),
            (0.5325, 0.72), (0.5307, 0.84), (0.5289, 0.97), (0.5271, 1.10), (0.5253, 1.35), (0.5235, 1.60),
            (0.5217, 2.16), (0.5199, 2.29), (0.5181, 2.22), (0.5163, 2.29), (0.5145, 2.41), (0.5127, 2.35),
            (0.5109, 2.47), (0.5091, 2.54), (0.5073, 2.60), (0.5055, 2.72), (0.5037, 2.66), (0.5019, 2.79),
            (0.5002, 2.72), (0.4984, 2.60), (0.4966, 1.97), (0.4948, 1.35), (0.4930, 1.10), (0.4912, 0.97),
            (0.4894, 0.72), (0.4876, 0.59), (0.4858, 0.66), (0.4840, 0.47), (0.4822, 0.41), (0.4804, 0.53),
            (0.4786, 0.34), (0.4768, 0.47), (0.4750, 0.59), (0.4732, 0.34), (0.4714, 0.47), (0.4697, 0.34),
            (0.4679, 0.47), (0.4661, 0.34), (0.4643, 0.47), (0.4625, 0.59), (0.4607, 0.34), (0.4589, 0.22),
            (0.4571, 0.09), (0.4553, -0.53), (0.4535, -0.91), (0.4517, -1.04), (0.4499, -1.16), (0.4481, -1.10),
            (0.4463, -1.16), (0.4445, -1.29), (0.4427, -1.16), (0.4409, -1.41), (0.4391, -1.66), (0.4373, -1.91),
            (0.4356, -2.29), (0.4338, -2.04), (0.4320, -1.79), (0.4302, -1.54), (0.4284, -1.41), (0.4266, -1.48),
            (0.4248, -1.29), (0.4230, -1.22), (0.4212, -1.16), (0.4194, -0.91), (0.4176, -1.04), (0.4158, -0.78),
            (0.4140, -0.91), (0.4122, -1.04), (0.4104, -0.91), (0.4086, 0.97), (0.4068, 0.91), (0.4050, 0.84),
            (0.4033, 0.91), (0.4015, 0.97), (0.3997, 0.91), (0.3979, 0.97), (0.3961, 1.00), (0.3943, 1.03),
            (0.3925, 1.07), (0.3907, 1.03), (0.3889, 0.97), (0.3871, 0.91), (0.3853, 0.84), (0.3835, 0.82),
            (0.3817, 0.78), (0.3799, 0.74), (0.3781, 0.72), (0.3763, 0.66), (0.3745, 0.72), (0.3727, 0.59),
            (0.3709, 0.53), (0.3692, 0.41), (0.3674, 0.47), (0.3656, 0.50), (None, None), (0.3234, 0.34),
            (0.3207, 0.34), (0.3180, 0.41), (0.3162, 0.47)]

# ---------------------------------------------------------------- threshold 0.52 (x-axis not reversed)
t520_blue = [(0.5103, 0.72), (0.5122, 0.67), (0.5140, 0.70), (0.5158, 0.63), (0.5176, 0.63), (0.5194, 0.70),
             (0.5212, 0.63), (0.5221, 0.50)]
t520_red = [(0.3145, 0.43), (0.3168, 0.37), (0.3190, 0.33), (0.3227, 0.33), (None, None), (0.3644, 0.37),
            (0.3666, 0.30), (0.3689, 0.56), (0.3716, 0.63), (0.3743, 0.70), (0.3770, 0.67), (0.3798, 0.72),
            (0.3825, 0.76), (0.3852, 0.83), (0.3879, 0.89), (0.3907, 0.96), (0.3925, 0.98), (0.3943, 0.89),
            (0.3961, 0.93), (0.3979, 0.89), (0.3997, 0.96), (0.4015, 0.89), (0.4043, 0.92), (0.4070, 0.96),
            (0.4088, 0.96), (0.4097, -0.61), (0.4115, -0.80), (0.4133, -0.61), (0.4151, -0.67), (0.4170, -0.48),
            (0.4188, -0.61), (0.4206, -0.87), (0.4224, -0.93), (0.4242, -0.87), (0.4260, -1.06), (0.4278, -1.00),
            (0.4296, -1.13), (0.4315, -1.06), (0.4333, -1.26), (0.4351, -1.52), (0.4369, -2.04), (0.4387, -1.52),
            (0.4405, -1.26), (0.4423, -1.13), (0.4442, -1.06), (0.4460, -1.19), (0.4478, -1.00), (0.4496, -1.06),
            (0.4514, -0.87), (0.4532, -0.93), (0.4550, -0.74), (0.4568, 0.17), (0.4587, 0.30), (0.4605, 0.56),
            (0.4623, 0.43), (0.4641, 0.83), (0.4659, 0.43), (0.4677, 0.56), (0.4695, 0.70), (0.4714, 0.37),
            (0.4732, 0.70), (0.4750, 0.43), (0.4768, 0.56), (0.4786, 0.30), (0.4804, 0.70), (0.4822, 0.56),
            (0.4840, 0.83), (0.4859, 0.96), (0.4877, 0.83), (0.4895, 1.22), (0.4913, 1.48), (0.4931, 1.87),
            (0.4949, 2.26), (0.4967, 2.52), (0.4986, 2.78), (0.5004, 2.84), (0.5022, 2.91), (0.5040, 2.97),
            (0.5058, 2.91), (0.5076, 3.04), (0.5094, 3.07), (0.5113, 3.10), (0.5131, 2.97), (0.5149, 2.78),
            (0.5167, 2.91), (0.5185, 2.65), (0.5203, 2.71), (0.5221, 2.52), (0.5239, 2.26), (0.5258, 1.87),
            (0.5276, 1.22), (0.5294, 0.83), (0.5312, 0.43), (0.5330, 0.17), (0.5348, -0.09), (0.5366, -0.28),
            (0.5384, -0.35), (0.5403, -0.48), (0.5421, -0.61), (0.5439, -0.74), (0.5457, -0.87), (0.5475, -1.13),
            (0.5493, -1.39), (0.5511, -1.58), (0.5530, -1.65), (0.5548, -1.78), (0.5566, -1.91), (0.5584, -2.10),
            (0.5602, -1.91), (0.5620, -1.52), (0.5638, -1.26), (0.5656, -0.87), (0.5675, -0.48), (0.5684, -1.00),
            (0.5693, -1.06), (0.5702, -0.28), (0.5711, -0.87), (0.5720, 0.04), (0.5729, 0.96), (0.5738, 1.41)]

# ---------------------------------------------------------------- subplot layout
# pixel box (left, top, right, bottom), x range, y range, kind
panels = [
    dict(box=(83, 89, 458, 312), xr=[0.5995, 0.2424], yr=[0.472, 0.556], kind="scatter"),
    dict(box=(622, 80, 1090, 305), xr=[0.702, 0.281], yr=[-3.0, 3.16], kind="main"),
    dict(box=(31, 477, 340, 628), xr=[0.702, 0.279], yr=[-2.43, 3.5], kind="small"),
    dict(box=(505, 478, 810, 630), xr=[0.700, 0.279], yr=[-3.07, 3.15], kind="small"),
    dict(box=(972, 477, 1281, 630), xr=[0.7016, 0.282], yr=[-2.54, 3.23], kind="small"),
    dict(box=(31, 707, 338, 858), xr=[0.701, 0.280], yr=[-2.66, 3.4], kind="small"),
    dict(box=(502, 708, 811, 858), xr=[0.697, 0.281], yr=[-2.48, 2.69], kind="small"),
    dict(box=(972, 708, 1281, 858), xr=[0.697, 0.281], yr=[-3.04, 2.73], kind="small"),
    dict(box=(31, 936, 340, 1087), xr=[0.704, 0.276], yr=[-2.9, 2.75], kind="small"),
    dict(box=(502, 937, 811, 1087), xr=[0.697, 0.281], yr=[-2.54, 3.1], kind="small"),
    dict(box=(972, 936, 1281, 1087), xr=[0.2805, 0.701], yr=[-2.43, 3.46], kind="small"),
]

small_series = [
    (3, "Z-axis threshold: 0.489", False, (22, 457), t489_blue, t489_red),
    (4, "Z-axis threshold: 0.490", True, (485, 457), main_blue, main_red),
    (5, "Z-axis threshold: 0.493", True, (948, 457), t493_blue, t493_red),
    (6, "Z-axis threshold: 0.495", True, (22, 679), t495_blue, t495_red),
    (7, "Z-axis threshold: 0.496", False, (460, 682), t496_blue, t496_red),
    (8, "Z-axis threshold: 0.497", False, (918, 682), t497_blue, t497_red),
    (9, "Z-axis threshold: 0.50", False, (27, 924), t500_blue, t500_red),
    (10, "Z-axis threshold: 0.51", False, (458, 924), t510_blue, t510_red),
    (11, "Z-axis threshold: 0.52", False, (927, 929), t520_blue, t520_red),
]

# sliding-window arrows under some of the small charts: (subplot, x start, x end, y)
slide_arrows = [(4, 0.5853, 0.5315, -2.79), (5, 0.5820, 0.5322, -2.30), (6, 0.5767, 0.5250, -2.44)]


def sfx(i):
    return "" if i == 1 else str(i)


def px(x, y):
    return x / W, 1 - y / H


def to_paper(i, xv, yv):
    p = panels[i - 1]
    l, t, r, b = p["box"]
    (x0, x1), (y0, y1) = p["xr"], p["yr"]
    fx = (xv - x0) / (x1 - x0)
    fy = (yv - y0) / (y1 - y0)
    return (l + fx * (r - l)) / W, 1 - (b - fy * (b - t)) / H


def split(pairs):
    return [p[0] for p in pairs], [p[1] for p in pairs]


fig = go.Figure()

# scatter of all samples
sc_x = top_row_x + mid_row_x + low_row_x + band_sparse_x
sc_z = top_row_z + mid_row_z + low_row_z + band_sparse_z
for z, xs in zip(band_levels, band_rows_x):
    sc_x += xs
    sc_z += [z] * len(xs)
fig.add_trace(go.Scatter(x=sc_x, y=sc_z, mode="markers", xaxis="x", yaxis="y", showlegend=False,
                         marker=dict(color="#2a66a8", size=6, line=dict(width=0)), hoverinfo="skip"))
fig.add_trace(go.Scatter(x=[marked_point[0]], y=[marked_point[1]], mode="markers", xaxis="x", yaxis="y",
                         showlegend=False, marker=dict(color="#6f6f6f", size=5), hoverinfo="skip"))

# main window plot
bx, by = split(main_blue)
rx, ry = split(main_red)
fig.add_trace(go.Scatter(x=bx, y=by, mode="lines", xaxis="x2", yaxis="y2", name="Statistics above z-axis threshold",
                         line=dict(color=BLUE, width=1.6), hoverinfo="skip"))
fig.add_trace(go.Scatter(x=rx, y=ry, mode="lines", xaxis="x2", yaxis="y2", name="Statistics below z-axis threshold",
                         line=dict(color=RED, width=1.6), hoverinfo="skip"))
fig.add_trace(go.Scatter(x=[above_point[0]], y=[above_point[1]], mode="markers", xaxis="x2", yaxis="y2",
                         showlegend=False, marker=dict(color="#4a62c9", size=10), hoverinfo="skip"))
fig.add_trace(go.Scatter(x=[below_point[0]], y=[below_point[1]], mode="markers", xaxis="x2", yaxis="y2",
                         showlegend=False, marker=dict(color="#ff0a0a", size=10), hoverinfo="skip"))
fig.add_trace(go.Scatter(x=[above_arrow[0]], y=[above_arrow[1]], mode="markers", xaxis="x2", yaxis="y2",
                         showlegend=False, hoverinfo="skip",
                         marker=dict(color="#5b7fcf", size=10, symbol="triangle-right", angle=-4)))
fig.add_trace(go.Scatter(x=[below_arrow[0]], y=[below_arrow[1]], mode="markers", xaxis="x2", yaxis="y2",
                         showlegend=False, hoverinfo="skip",
                         marker=dict(color="#f08a3c", size=10, symbol="triangle-right", angle=-11)))

# small charts
for i, title, underline, pos, blue, red in small_series:
    bx, by = split(blue)
    rx, ry = split(red)
    fig.add_trace(go.Scatter(x=bx, y=by, mode="lines", xaxis="x" + sfx(i), yaxis="y" + sfx(i), showlegend=False,
                             line=dict(color=BLUE, width=1.3), hoverinfo="skip"))
    fig.add_trace(go.Scatter(x=rx, y=ry, mode="lines", xaxis="x" + sfx(i), yaxis="y" + sfx(i), showlegend=False,
                             line=dict(color=RED, width=1.3), hoverinfo="skip"))

layout = dict(
    width=W, height=H, autosize=False, margin=dict(l=0, r=0, t=0, b=0),
    paper_bgcolor="white", plot_bgcolor="#e5ecf6",
    font=dict(family="Open Sans", color="#444"),
    legend=dict(x=968 / W, y=1 - 83 / H, xanchor="left", yanchor="top", bgcolor="white",
                bordercolor="#444", borderwidth=1, font=dict(size=12.5, color="#444"),
                itemwidth=42, tracegroupgap=3),
    hovermode=False,
)

for i, p in enumerate(panels, start=1):
    l, t, r, b = p["box"]
    kind = p["kind"]
    if kind == "scatter":
        tf, xt, yd = dict(size=8, color="#9fb3d6"), scatter_x_ticks, dict(tickvals=scatter_z_ticks)
    elif kind == "main":
        tf, xt, yd = dict(size=8.5, color="#555"), window_ticks, dict(dtick=1)
    else:
        tf, xt, yd = dict(size=6, color="#666"), window_ticks, dict(dtick=1)
    layout["xaxis" + sfx(i)] = dict(domain=[l / W, r / W], range=p["xr"], anchor="y" + sfx(i), tickvals=xt,
                                    tickfont=tf, showgrid=True, gridcolor="white", gridwidth=1,
                                    zeroline=False, showline=False, ticks="", fixedrange=True)
    layout["yaxis" + sfx(i)] = dict(domain=[1 - b / H, 1 - t / H], range=p["yr"], anchor="x" + sfx(i),
                                    tickfont=tf, showgrid=True, gridcolor="white", gridwidth=1,
                                    zeroline=(kind != "scatter"), zerolinecolor="white", zerolinewidth=2,
                                    showline=False, ticks="", fixedrange=True, **yd)
fig.update_layout(**layout)

# ---------------------------------------------------------------- shapes
shapes = []
sp = panels[0]
shapes.append(dict(type="rect", xref="x", yref="y", x0=sp["xr"][0], x1=sp["xr"][1], y0=sp["yr"][0],
                   y1=sp["yr"][1], fillcolor="#edf1f9", line=dict(width=0), layer="below"))

win_left = window_center + window_width / 2
win_right = window_center - window_width / 2
ax0, ay0 = to_paper(1, win_left, window_top_z)
ax1, ay1 = to_paper(1, win_right, threshold_z)
shapes.append(dict(type="rect", xref="paper", yref="paper", x0=ax0, x1=ax1, y0=ay1, y1=ay0,
                   fillcolor="rgba(150,170,220,0.55)", line=dict(color="#222", width=1.8, dash="6px,3px")))
bx0, by0 = to_paper(1, win_left, threshold_z)
bx1, by1 = to_paper(1, win_right, window_bottom_z)
shapes.append(dict(type="rect", xref="paper", yref="paper", x0=bx0, x1=bx1, y0=by1, y1=by0,
                   fillcolor="rgba(245,140,140,0.6)", line=dict(color="#9b2a2a", width=1.4, dash="4px,2px")))

# threshold line
tx0, ty0 = to_paper(1, 0.5929, threshold_z)
tx1, ty1 = to_paper(1, 0.2805, threshold_z)
shapes.append(dict(type="line", xref="paper", yref="paper", x0=tx0, y0=ty0, x1=tx1, y1=ty1,
                   line=dict(color="#333", width=1, dash="3px,2px")))

# connectors from the window to the window plot
for src_z, dst, color in [(above_source_z, above_arrow, "#7f9bd6"), (below_source_z, below_arrow, "#f4a566")]:
    sx, sy = to_paper(1, win_right, src_z)
    dxp, dyp = to_paper(2, dst[0], dst[1])
    shapes.append(dict(type="line", xref="paper", yref="paper", x0=sx, y0=sy, x1=dxp, y1=dyp,
                       line=dict(color=color, width=1.5, dash="dash")))

# pointer lines for the callouts
wx, wy = to_paper(1, win_right, 0.4815)
ex, ey = px(253, 359)
shapes.append(dict(type="line", xref="paper", yref="paper", x0=wx, y0=wy, x1=ex, y1=ey,
                   line=dict(color="#666", width=1)))
hx, hy = to_paper(1, 0.31, threshold_z)
ex, ey = px(413, 330)
shapes.append(dict(type="line", xref="paper", yref="paper", x0=hx, y0=hy, x1=ex, y1=ey,
                   line=dict(color="#444", width=1)))
fig.update_layout(shapes=shapes)

# ---------------------------------------------------------------- annotations
ann = []


def text(s, x, y, size, color="#333", family=TXT, xanchor="left", angle=0, align="left"):
    # left-anchored labels carry a couple of pixels of padding inside the annotation box
    xp, yp = px(x - 2 if xanchor == "left" else x, y)
    ann.append(dict(text=s, x=xp, y=yp, xref="paper", yref="paper", xanchor=xanchor, yanchor="middle",
                    showarrow=False, textangle=angle, align=align, font=dict(size=size, color=color, family=family)))


text("A", 8, 25, 38, "#111", "Liberation Sans")
text("B", 8, 408, 38, "#111", "Liberation Sans")
text("Z-axis threshold: 0.490", 47, 57, 17, "#3a3a3a")
text("Difference in the population<br>proportions per area is<br>calculated and plotted.", 384, 81, 13.5, "#444")
text("Slide the window", 60, 339, 18, "#333")
text(f"Window width: {window_width:.2f}", 247, 372, 13.5, "#444")
text("Threshold on z-axis is fixed.", 398, 346, 12, "#444")
text("x", 271, 335, 9, "#9fb3d6", "Open Sans", "center")
text("z", 44, 200, 9, "#9fb3d6", "Open Sans", "center", -90)
text("Hemolytic anemia and kidney involvement", 845, 44, 11.5, "#444", "Open Sans", "center")
text("Window on x-axis", 862, 332, 12, "#333", "Open Sans", "center")
text("Difference in the population  proportions", 591, 192, 11, "#222", "Open Sans", "center", -90)

for i, title, underline, pos, blue, red in small_series:
    label = f"<u>{title}</u>" if underline else title
    text(label, pos[0], pos[1], 17, "#3a3a3a")

# slide arrows
ann.append(dict(x=0.4833, y=0.474, ax=0.5233, ay=0.474, xref="x", yref="y", axref="x", ayref="y", text="",
                showarrow=True, arrowhead=2, arrowside="end+start", arrowsize=1.3, arrowwidth=1.6,
                arrowcolor="#111"))
for i, xs, xe, yv in slide_arrows:
    ann.append(dict(x=xe, y=yv, ax=xs, ay=yv, xref="x" + sfx(i), yref="y" + sfx(i), axref="x" + sfx(i),
                    ayref="y" + sfx(i), text="", showarrow=True, arrowhead=2, arrowside="end+start",
                    arrowsize=1.3, arrowwidth=1.6, arrowcolor="#111"))
fig.update_layout(annotations=ann)

fig.write_html("out.html")
